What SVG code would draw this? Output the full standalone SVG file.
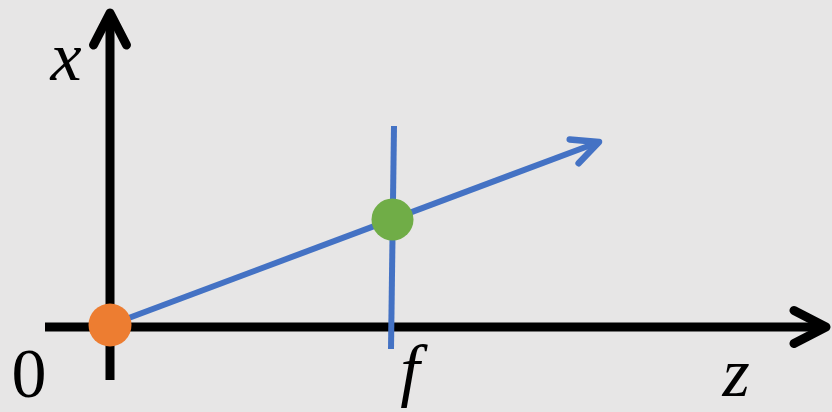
<svg xmlns="http://www.w3.org/2000/svg" width="832" height="412" viewBox="0 0 832 412">
  <style>
    .axis { stroke: #000000; stroke-width: 9; fill: none; }
    .ray { stroke: #4472C4; stroke-width: 6; fill: none; }
    .lbl { font-family: "Liberation Serif", "DejaVu Serif", serif; font-size: 70px; fill: #000000; }
    .it { font-style: italic; }
  </style>
  <defs>
    <marker id="arrowBlack" markerUnits="userSpaceOnUse" orient="auto" refX="0" refY="0" overflow="visible">
      <path d="M-32,-16.5 L0,0 L-32,16.5" fill="none" stroke="#000000" stroke-width="9" stroke-linecap="round" stroke-linejoin="round"/>
    </marker>
    <marker id="arrowBlue" markerUnits="userSpaceOnUse" orient="auto" refX="0" refY="0" overflow="visible">
      <path d="M-26.5,-12.7 L0,0 L-26.5,12.7" fill="none" stroke="#4472C4" stroke-width="6.5" stroke-linecap="round" stroke-linejoin="round"/>
    </marker>
  </defs>
  <rect x="0" y="0" width="832" height="412" fill="#E7E6E6"/>
  <g id="connectors">
    <line id="x-axis" class="axis" x1="110" y1="380" x2="110" y2="13" marker-end="url(#arrowBlack)"/>
    <line id="z-axis" class="axis" x1="45" y1="327" x2="826" y2="327" marker-end="url(#arrowBlack)"/>
    <line id="ray" class="ray" x1="110" y1="325" x2="599" y2="142" marker-end="url(#arrowBlue)"/>
    <line id="image-plane" class="ray" x1="394" y1="126" x2="391" y2="349"/>
  </g>
  <g id="origin">
    <circle cx="110" cy="325" r="21.5" fill="#ED7D31"/>
  </g>
  <g id="image-point">
    <circle cx="392.5" cy="219.5" r="21" fill="#70AD47"/>
  </g>
  <g id="labels">
    <text class="lbl it" x="66" y="80" text-anchor="middle">x</text>
    <text class="lbl" x="29" y="397" text-anchor="middle">0</text>
    <text class="lbl it" x="410" y="393" text-anchor="middle">f</text>
    <text class="lbl it" x="736" y="396" text-anchor="middle">z</text>
  </g>
</svg>
